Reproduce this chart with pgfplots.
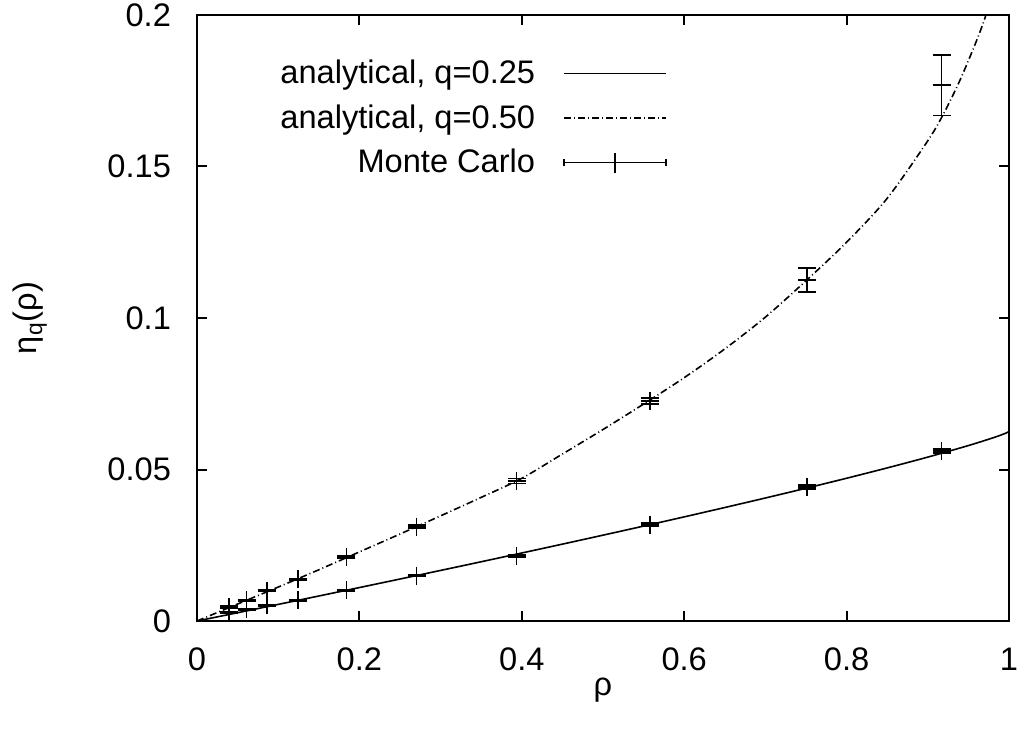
\documentclass[border=0pt]{standalone}
\usepackage{fontspec}
\setmainfont{Liberation Sans}
\usepackage{pgfplots}
\pgfplotsset{compat=1.18}
\newcommand{\fsz}{\fontsize{16.3}{19.5}\selectfont}
\begin{document}
\begin{tikzpicture}
\begin{axis}[
  scale only axis, width=406pt, height=303pt,
  xmin=0, xmax=1, ymin=0, ymax=0.2,
  xtick={0,0.2,0.4,0.6,0.8,1}, xticklabels={0,0.2,0.4,0.6,0.8,1},
  ytick={0,0.05,0.1,0.15,0.2}, yticklabels={0,0.05,0.1,0.15,0.2},
  scaled ticks=false,
  tick align=inside, major tick length=5pt,
  axis line style={line width=1pt},
  every tick/.style={line width=1pt, black},
  tick label style={font=\fsz},
  xticklabel style={yshift=-10pt},
  yticklabel style={xshift=-9.5pt},
  xlabel={ρ}, ylabel={η\textsubscript{q}(ρ)},
  label style={font=\fsz},
  xlabel style={at={(0.5,0)}, anchor=center, yshift=-34.5pt},
  ylabel style={at={(0,0.5)}, anchor=center, yshift=83.5pt},
  legend style={draw=none, fill=none, font=\fsz, at={(0.579,0.830)}, anchor=east,
    inner sep=0pt, row sep=5pt},
  legend cell align=right, legend plot pos=right,
  /tikz/every odd column/.append style={column sep=12pt},
]
\addlegendimage{legend image code/.code={\draw[line width=0.8pt] (0pt,0pt) -- (51pt,0pt);}}
\addlegendentry{analytical, q=0.25}
\addlegendimage{legend image code/.code={\draw[line width=0.8pt, dash pattern=on 3.5pt off 1.5pt on 0.5pt off 1.5pt] (0pt,0pt) -- (51pt,0pt);}}
\addlegendentry{analytical, q=0.50}
\addlegendimage{legend image code/.code={
  \draw[line width=0.8pt] (0pt,0pt) -- (51pt,0pt);
  \draw[line width=0.8pt] (0pt,-1.8pt) -- (0pt,1.8pt);
  \draw[line width=0.8pt] (51pt,-1.8pt) -- (51pt,1.8pt);
  \draw[line width=0.8pt] (25.5pt,-5pt) -- (25.5pt,5pt);}}
\addlegendentry{Monte Carlo}

% analytical q=0.25
\addplot[forget plot, line width=0.8pt, smooth] coordinates {
(0,0) (0.025,0.001363) (0.05,0.002731) (0.1,0.005480) (0.15,0.008249)
(0.2,0.011040) (0.25,0.013853) (0.3,0.016691) (0.35,0.019554) (0.4,0.022446)
(0.45,0.025370) (0.5,0.028328) (0.55,0.031324) (0.6,0.034364) (0.65,0.037453)
(0.7,0.040599) (0.75,0.043815) (0.8,0.047115) (0.85,0.050526) (0.9,0.054091)
(0.95,0.057901) (0.98,0.060429) (0.99,0.061368) (0.995,0.06188) (1,0.0625)
};
% analytical q=0.50
\addplot[forget plot, line width=0.8pt, smooth, dash pattern=on 3.5pt off 1.5pt on 0.5pt off 1.5pt] coordinates {
(0,0) (0.05,0.0056) (0.1,0.0112) (0.15,0.0169) (0.2,0.0228) (0.25,0.0287)
(0.3,0.0347) (0.35,0.0408) (0.4,0.0471) (0.45,0.0551) (0.5,0.0632)
(0.55,0.0716) (0.6,0.0803) (0.65,0.0898) (0.7,0.1003) (0.75,0.1123)
(0.8,0.1250) (0.85,0.1395) (0.9,0.1585) (0.92,0.1677) (0.94,0.1787)
(0.96,0.1915) (0.97,0.1987) (0.98,0.2069)
};
% Monte Carlo
\addplot[forget plot, only marks, mark=+, mark size=4.5pt, line width=0.8pt,
  error bars/.cd, y dir=both, y explicit,
  error bar style={line width=0.8pt},
  error mark options={rotate=90, mark size=4.5pt, line width=0.8pt}]
  table[x=x, y=y, y error=e] {
x y e
0.0397 0.0046 0.0003
0.0610 0.0068 0.0003
0.0862 0.0100 0.0003
0.1245 0.0137 0.0003
0.1840 0.0211 0.0004
0.2705 0.0311 0.0005
0.3935 0.0462 0.0008
0.5580 0.0726 0.0010
0.7515 0.1125 0.0040
0.9170 0.1768 0.0100
0.0397 0.0027 0.0002
0.0610 0.0038 0.0002
0.0862 0.0052 0.0002
0.1245 0.0069 0.0002
0.1840 0.0102 0.0002
0.2705 0.0150 0.0003
0.3935 0.0213 0.0004
0.5580 0.0318 0.0005
0.7515 0.0442 0.0006
0.9170 0.0561 0.0006
};
\end{axis}
\pgfresetboundingbox
\path[use as bounding box] ([shift={(-98.5pt,-56.5pt)}]current axis.south west) rectangle ([shift={(6.5pt,7.5pt)}]current axis.north east);
\end{tikzpicture}
\end{document}
